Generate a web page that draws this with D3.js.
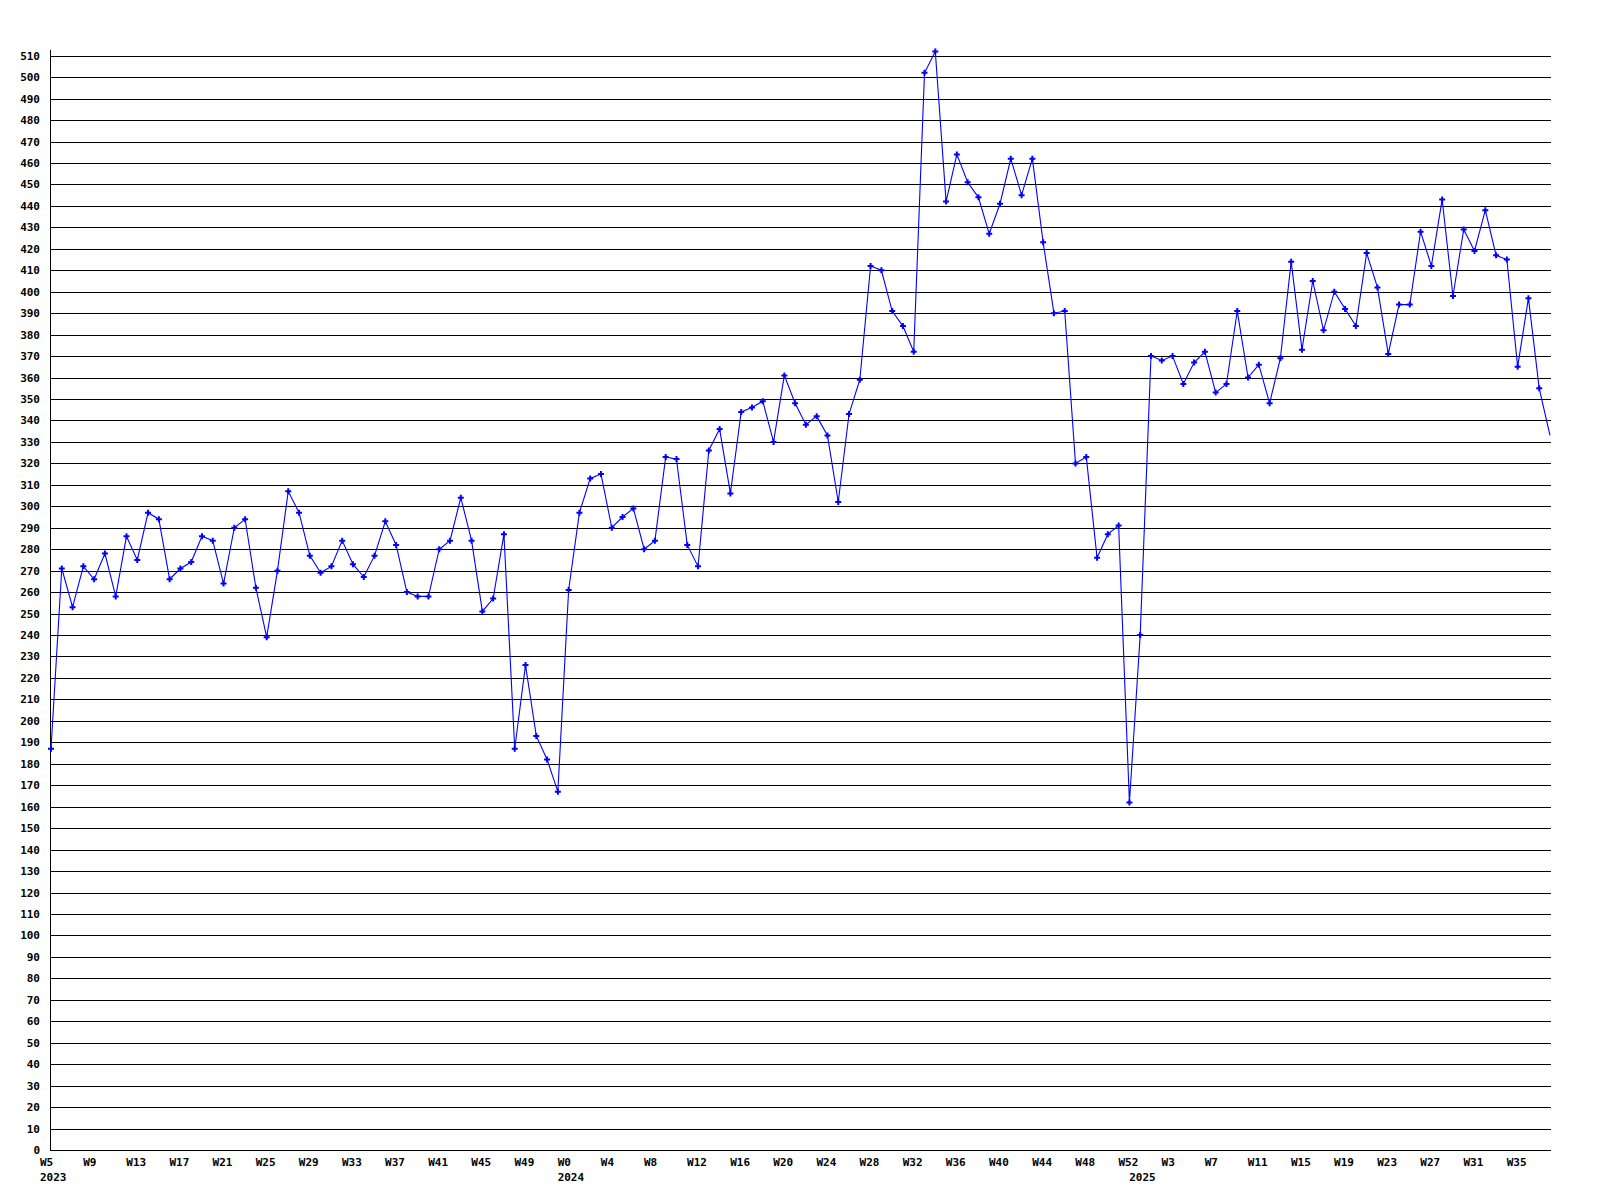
<!DOCTYPE html>
<html>
<head>
<meta charset="utf-8">
<script src="https://cdn.jsdelivr.net/npm/d3@7"></script>
<style>
    body { margin: 0; background: #fff; }
    text { font-family: "DejaVu Sans Mono", "Liberation Mono", monospace; font-weight: bold; font-size: 11px; fill: #000; }
</style>
</head>
<body>
<div id="chart"></div>
<script>
    // one value per week, weeks numbered from firstWeek in each year
    const years = [2023, 2024, 2025];
    const firstWeek = [5, 0, 0];

    const values2023 = [187, 271, 253, 272, 266, 278, 258, 286, 275, 297, 294, 266, 271, 274, 286, 284,
        264, 290, 294, 262, 239, 270, 307, 297, 277, 269, 272, 284, 273, 267, 277, 293,
        282, 260, 258, 258, 280, 284, 304, 284, 251, 257, 287, 187, 226, 193, 182, 167];
    const values2024 = [261, 297, 313, 315, 290, 295, 299, 280, 284, 323, 322, 282, 272, 326, 336, 306,
        344, 346, 349, 330, 361, 348, 338, 342, 333, 302, 343, 359, 412, 410, 391, 384,
        372, 502, 512, 442, 464, 451, 444, 427, 441, 462, 445, 462, 423, 390, 391, 320,
        323, 276, 287, 291, 162];
    const values2025 = [240, 370, 368, 370, 357, 367, 372, 353, 357, 391, 360, 366, 348, 369, 414, 373,
        405, 382, 400, 392, 384, 418, 402, 371, 394, 394, 428, 412, 443, 398, 429, 419,
        438, 417, 415, 365, 397, 355, 333];

    const yTicks = d3.range(0, 511, 10);
    const labelEvery = 4;

    const width = 1600,
          height = 1200;

    // flatten into {year, week, value}
    let points = [];
    [values2023, values2024, values2025].forEach((vals, k) => {
        vals.forEach((v, j) => {
            points.push({year: years[k], week: firstWeek[k] + j, value: v, first: j === 0});
        });
    });

    const x = d3.scaleLinear()
        .domain([0, points.length - 1])
        .range([51, 1550]);

    const y = d3.scaleLinear()
        .domain([0, 510])
        .range([1150, 55.7]);

    const svg = d3.select("#chart").append("svg")
        .attr("width", width)
        .attr("height", height);

    // horizontal grid lines
    svg.append("g")
        .selectAll("line")
        .data(yTicks)
        .enter().append("line")
            .attr("x1", 51)
            .attr("x2", 1551)
            .attr("y1", d => Math.round(y(d)) + 0.5)
            .attr("y2", d => Math.round(y(d)) + 0.5)
            .attr("stroke", "#000")
            .attr("stroke-width", 1)
            .attr("shape-rendering", "crispEdges");

    svg.append("line")
        .attr("x1", 50.5)
        .attr("x2", 50.5)
        .attr("y1", 50)
        .attr("y2", 1150.5)
        .attr("stroke", "#000")
        .attr("shape-rendering", "crispEdges");

    svg.append("g")
        .selectAll("text")
        .data(yTicks)
        .enter().append("text")
            .attr("x", 40)
            .attr("y", d => Math.round(y(d)) + 4)
            .attr("text-anchor", "end")
            .text(d => d);

    // week labels every 4th point, year below first week of each year
    const ticks = points.map((p, i) => ({p: p, i: i})).filter(d => d.i % labelEvery === 0);

    svg.append("g")
        .selectAll("text")
        .data(ticks)
        .enter().append("text")
            .attr("x", d => x(d.i) - 11)
            .attr("y", 1166)
            .text(d => "W" + d.p.week);

    svg.append("g")
        .selectAll("text")
        .data(points.map((p, i) => ({p: p, i: i})).filter(d => d.p.first))
        .enter().append("text")
            .attr("x", d => x(d.i) - 11)
            .attr("y", 1181)
            .text(d => d.p.year);

    svg.append("clipPath")
        .attr("id", "plot")
        .append("rect")
            .attr("x", 40)
            .attr("y", 40)
            .attr("width", 1511)
            .attr("height", 1120);

    const g = svg.append("g").attr("clip-path", "url(#plot)");

    const line = d3.line()
        .x((d, i) => x(i))
        .y(d => y(d.value));

    g.append("path")
        .datum(points)
        .attr("d", line)
        .attr("fill", "none")
        .attr("stroke", "#0000ff")
        .attr("stroke-width", 1.1);

    // last point sits on the right edge and shows no marker in the original
    g.selectAll(".marker")
        .data(points.slice(0, -1))
        .enter().append("path")
            .attr("class", "marker")
            .attr("transform", (d, i) => "translate(" + x(i) + "," + y(d.value) + ")")
            .attr("d", d3.symbol(d3.symbolCross, 20))
            .attr("fill", "#0000ff");
</script>
</body>
</html>
